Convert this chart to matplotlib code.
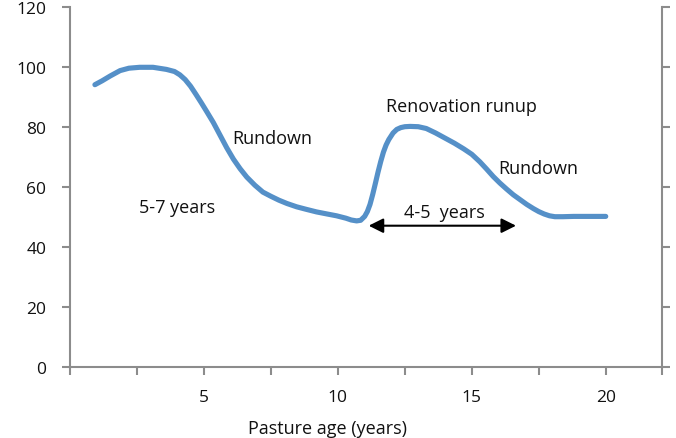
import matplotlib
matplotlib.use("Agg")
import matplotlib.pyplot as plt
from matplotlib.ticker import FixedLocator, NullFormatter

plt.rcParams['font.family'] = ['Open Sans', 'DejaVu Sans']

# Pasture production curve
age = [0.93, 1.2, 1.5, 1.87, 2.2, 2.6, 3.1, 3.6, 3.9, 4.1, 4.3, 4.5, 4.7, 4.9, 5.1,
       5.35, 5.6, 5.85, 6.1, 6.35, 6.6, 6.9, 7.2, 7.5, 7.8, 8.1, 8.46, 8.8, 9.2, 9.6,
       9.95, 10.3, 10.5, 10.7, 10.85, 11.0, 11.1, 11.2, 11.3, 11.4, 11.5, 11.6, 11.7,
       11.8, 11.9, 12.06, 12.2, 12.35, 12.5, 12.7, 13.0, 13.3, 13.65, 14.0, 14.35,
       14.7, 15.0, 15.3, 15.55, 15.8, 16.05, 16.3, 16.55, 16.8, 17.05, 17.3, 17.5,
       17.7, 17.9, 18.1, 18.4, 18.8, 19.4, 20.0]
production = [94.1, 95.4, 97.0, 98.8, 99.6, 99.9, 99.9, 99.2, 98.5, 97.4, 95.8, 93.6,
              90.9, 88.1, 85.2, 81.5, 77.3, 73.1, 69.3, 66.1, 63.3, 60.6, 58.3, 56.9,
              55.6, 54.5, 53.4, 52.6, 51.7, 51.0, 50.4, 49.6, 49.0, 48.7, 48.9, 50.2,
              51.8, 54.2, 57.5, 61.2, 65.0, 68.5, 71.6, 74.0, 75.8, 78.0, 79.2, 79.8,
              80.1, 80.2, 80.1, 79.5, 78.0, 76.3, 74.6, 72.7, 70.9, 68.4, 66.0, 63.5,
              61.3, 59.3, 57.4, 55.8, 54.2, 52.8, 51.8, 51.0, 50.4, 50.1, 50.1, 50.2,
              50.2, 50.2]

x_label_ticks = [5, 10, 15, 20]
y_ticks = [0, 20, 40, 60, 80, 100, 120]
annotations = [
    ("Rundown", 6.07, 76.3, 'left'),
    ("5-7 years", 4.0, 53.3, 'center'),
    ("Renovation runup", 11.8, 87.1, 'left'),
    ("Rundown", 16.0, 66.3, 'left'),
    ("4-5  years", 13.97, 51.7, 'center'),
]
arrow_span = (11.15, 16.65, 47.1)

fig = plt.figure(figsize=(6.76, 4.39), dpi=100)
ax = fig.add_axes([70/676, 1 - 368/439, (662-70)/676, (368-8)/439])

ax.plot(age, production, color='#5590C8', lw=3.7, solid_capstyle='round',
        solid_joinstyle='round')

ax.set_xlim(0, 22.1)
ax.set_ylim(0, 120)

grey = '#8C8C8C'
for s in ['left', 'right', 'bottom']:
    ax.spines[s].set_color(grey)
    ax.spines[s].set_linewidth(1.5)
ax.spines['top'].set_visible(False)

minor = [0, 2.5, 7.5, 12.5, 17.5, 22.1]
ax.xaxis.set_major_locator(FixedLocator(x_label_ticks))
ax.xaxis.set_minor_locator(FixedLocator(minor))
ax.xaxis.set_minor_formatter(NullFormatter())
ax.tick_params(axis='x', which='both', direction='out', length=6, width=1.5,
               color=grey, pad=10, labelsize=12.5, labelcolor='#111111')

ax.set_yticks(y_ticks)
ax.tick_params(axis='y', which='both', direction='out', length=6, width=1.5,
               color=grey, pad=11, labelsize=12.5, labelcolor='#111111',
               right=True, labelright=False)

ax.set_xlabel("Pasture age (years)", fontsize=13, color='#111111', labelpad=5)
ax.xaxis.set_label_coords((327 - 70) / 592, -0.145)

for txt, x, y, ha in annotations:
    ax.text(x, y, txt, fontsize=13, ha=ha, va='center', color='#111111')

ax.annotate('', xy=(arrow_span[0], arrow_span[2]), xytext=(arrow_span[1], arrow_span[2]),
            arrowprops=dict(arrowstyle='<|-|>', color='black', lw=1.5,
                            mutation_scale=22, shrinkA=0, shrinkB=0))

fig.savefig('out.png', dpi=100)
